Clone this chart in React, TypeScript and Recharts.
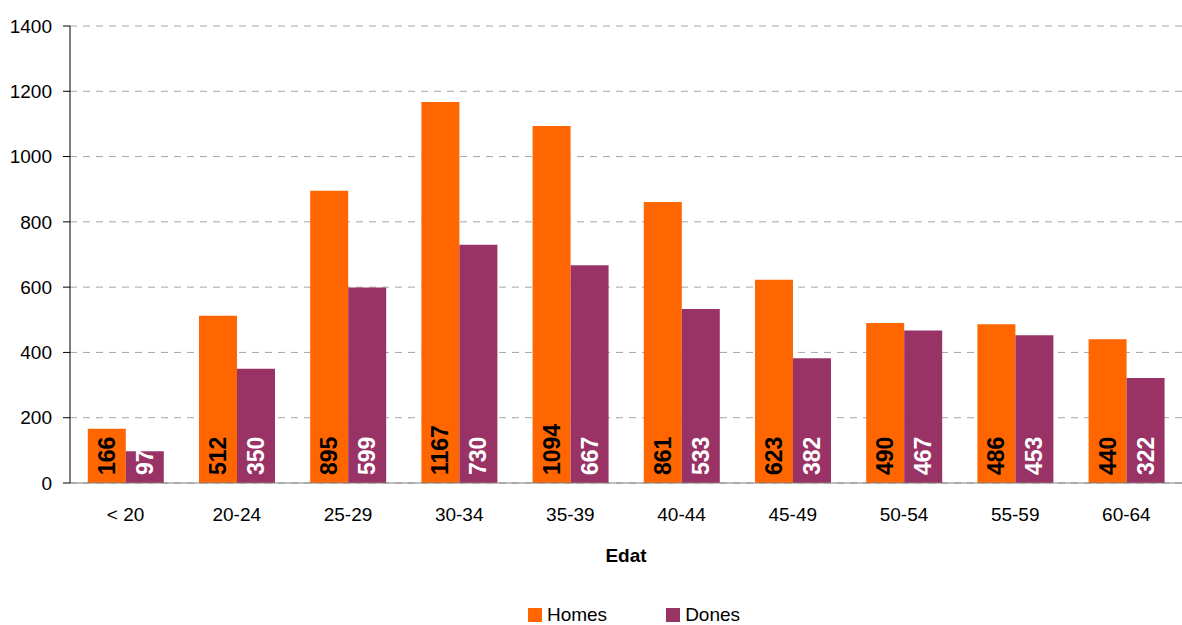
import React from "react";
import { BarChart, Bar, XAxis, YAxis, CartesianGrid, Legend, LabelList } from "recharts";

const ageGroups = ["< 20", "20-24", "25-29", "30-34", "35-39", "40-44", "45-49", "50-54", "55-59", "60-64"];
const homes = [166, 512, 895, 1167, 1094, 861, 623, 490, 486, 440];
const dones = [97, 350, 599, 730, 667, 533, 382, 467, 453, 322];
const yTicks = [0, 200, 400, 600, 800, 1000, 1200, 1400];

const data = ageGroups.map((edat, i) => ({ edat, Homes: homes[i], Dones: dones[i] }));

const FONT = "'Liberation Sans', Arial, sans-serif";

const makeLabel = (fill: string) => (props: any) => {
  const { x, y, width, height, value } = props;
  const cx = x + width / 2;
  const by = y + height - 8;
  return (
    <text
      x={cx}
      y={by}
      transform={`rotate(-90 ${cx} ${by})`}
      textAnchor="start"
      dominantBaseline="central"
      fill={fill}
      fontFamily={FONT}
      fontWeight="bold"
      fontSize={23}
    >
      {value}
    </text>
  );
};

const legendItems = [
  { name: "Homes", color: "#FF6600" },
  { name: "Dones", color: "#993366" },
];

const renderLegend = () => (
  <div
    style={{
      display: "flex",
      justifyContent: "center",
      gap: 59,
      fontFamily: FONT,
      fontSize: 19,
      lineHeight: "20px",
      height: 42,
      boxSizing: "border-box",
      paddingTop: 22,
      paddingLeft: 86,
    }}
  >
    {legendItems.map((it) => (
      <div key={it.name} style={{ display: "flex", alignItems: "center" }}>
        <span style={{ width: 14, height: 14, background: it.color, display: "inline-block", marginRight: 5 }} />
        <span style={{ color: "#000" }}>{it.name}</span>
      </div>
    ))}
  </div>
);

export default function App() {
  return (
    <div style={{ position: "absolute", left: 0, top: 0, background: "#fff" }}>
      <BarChart
        width={1182}
        height={625}
        data={data}
        margin={{ top: 26, right: 0, left: 0, bottom: 0 }}
        barCategoryGap="16%"
        barGap={0}
      >
        <CartesianGrid vertical={false} stroke="#a6a6a6" strokeDasharray="7 6" />
        <XAxis
          dataKey="edat"
          height={100}
          tickLine={false}
          stroke="#808080"
          tick={{ fill: "#000", fontFamily: FONT, fontSize: 19 }}
          tickMargin={19}
          label={{ value: "Edat", position: "insideBottom", offset: 21, fill: "#000", fontFamily: FONT, fontSize: 19, fontWeight: "bold" }}
        />
        <YAxis
          width={70}
          domain={[0, 1400]}
          ticks={yTicks}
          stroke="#000"
          tickSize={7}
          tick={{ fill: "#000", fontFamily: FONT, fontSize: 19 }}
          tickMargin={11}
        />
        <Legend verticalAlign="bottom" content={renderLegend} wrapperStyle={{ padding: 0 }} />
        <Bar dataKey="Homes" fill="#FF6600" isAnimationActive={false}>
          <LabelList dataKey="Homes" content={makeLabel("#000")} />
        </Bar>
        <Bar dataKey="Dones" fill="#993366" isAnimationActive={false}>
          <LabelList dataKey="Dones" content={makeLabel("#fff")} />
        </Bar>
      </BarChart>
    </div>
  );
}
